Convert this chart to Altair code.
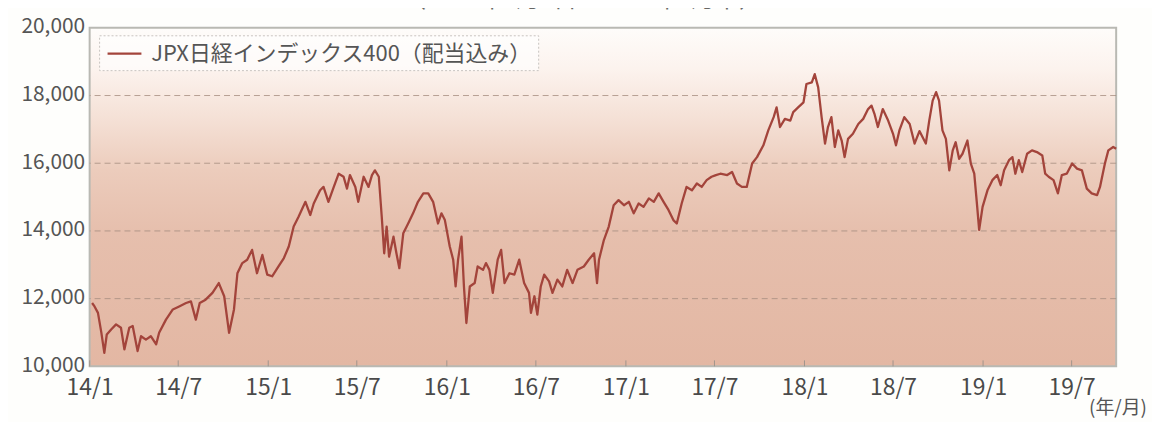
import altair as alt
import pandas as pd

# ---- data ----
series_name = "JPX日経インデックス400（配当込み）"
title_text = "（2014年1月6日～2019年9月末）"
unit_text = "(年/月)"
start_date = "2014-01-01"
day_offsets = [
    5, 10, 17, 24, 30, 35, 44, 54, 64, 71, 81, 88, 98, 105, 115, 125, 136, 142, 156, 170,
    183, 197, 207, 217, 225, 237, 251, 264, 275, 285, 295, 302, 312, 322, 332, 342, 353, 363, 373, 386,
    397, 407, 417, 427, 441, 451, 458, 471, 478, 488, 499, 509, 519, 526, 532, 543, 549, 560, 570, 577,
    583, 591, 597, 602, 607, 612, 621, 627, 633, 641, 651, 661, 671, 682, 692, 702, 712, 719, 726, 736,
    743, 748, 753, 760, 765, 770, 777, 787, 793, 804, 810, 817, 824, 834, 841, 848, 858, 868, 878, 888,
    898, 902, 909, 915, 922, 929, 939, 946, 956, 966, 976, 987, 997, 1010, 1020, 1031, 1037, 1041, 1051, 1061,
    1071, 1081, 1092, 1102, 1112, 1122, 1132, 1143, 1153, 1163, 1173, 1183, 1193, 1200, 1210, 1220, 1231, 1241, 1251, 1261,
    1271, 1280, 1289, 1303, 1313, 1323, 1333, 1343, 1354, 1364, 1377, 1387, 1398, 1404, 1411, 1421, 1432, 1438, 1448, 1459,
    1465, 1476, 1482, 1489, 1496, 1503, 1509, 1516, 1523, 1530, 1537, 1543, 1550, 1560, 1571, 1581, 1591, 1598, 1604, 1611,
    1621, 1632, 1642, 1648, 1655, 1665, 1676, 1686, 1696, 1709, 1716, 1723, 1730, 1736, 1743, 1750, 1757, 1764, 1770, 1777,
    1784, 1794, 1801, 1808, 1814, 1818, 1825, 1835, 1845, 1855, 1862, 1869, 1879, 1886, 1892, 1899, 1906, 1916, 1926, 1936,
    1947, 1953, 1960, 1970, 1979, 1987, 1997, 2008, 2018, 2028, 2038, 2048, 2059, 2065, 2075, 2082, 2092, 2098,
]
index_values = [
    11870, 11770, 11580, 10990, 10400, 10940, 11090, 11240, 11140, 10500, 11140, 11190, 10450, 10890, 10790, 10890, 10650, 10990, 11380, 11680,
    11770, 11870, 11920, 11380, 11870, 11970, 12170, 12460, 12070, 10990, 11680, 12750, 13050, 13150, 13440, 12750, 13290, 12710, 12660, 12950,
    13200, 13540, 14130, 14420, 14860, 14470, 14810, 15200, 15300, 14860, 15300, 15690, 15600, 15250, 15650, 15300, 14860, 15600, 15300, 15650,
    15790, 15600, 14420, 13340, 14130, 13240, 13830, 13340, 12900, 13930, 14220, 14520, 14860, 15110, 15110, 14860, 14220, 14520, 14320, 13540,
    13150, 12360, 13150, 13830, 12360, 11280, 12360, 12460, 12950, 12850, 13050, 12850, 12170, 13150, 13440, 12460, 12750, 12710, 13150, 12460,
    12170, 11580, 12070, 11530, 12360, 12710, 12510, 12170, 12560, 12360, 12850, 12460, 12850, 12950, 13150, 13340, 12460, 13150, 13730, 14130,
    14760, 14910, 14760, 14860, 14520, 14810, 14710, 14960, 14860, 15110, 14860, 14620, 14320, 14220, 14810, 15300, 15200, 15400, 15300, 15500,
    15600, 15650, 15690, 15650, 15740, 15400, 15300, 15300, 15990, 16180, 16530, 16970, 17360, 17650, 17070, 17310, 17260, 17510, 17650, 17800,
    18340, 18390, 18630, 18240, 17360, 16580, 17070, 17360, 16480, 16970, 16670, 16180, 16720, 16870, 17160, 17310, 17600, 17700, 17460, 17070,
    17600, 17260, 16870, 16530, 16970, 17360, 17160, 16580, 16950, 16580, 17260, 17850, 18100, 17850, 16970, 16720, 15790, 16380, 16620, 16130,
    16280, 16670, 15990, 15690, 14710, 14030, 14710, 15200, 15500, 15650, 15350, 15790, 16090, 16180, 15690, 16090, 15740, 16280, 16380, 16330,
    16230, 15690, 15600, 15500, 15110, 15650, 15690, 15990, 15840, 15790, 15250, 15110, 15060, 15300, 15990, 16380, 16480, 16430,
]
tick_dates = ["2014-01-01", "2014-07-01", "2015-01-01", "2015-07-01", "2016-01-01", "2016-07-01",
              "2017-01-01", "2017-07-01", "2018-01-01", "2018-07-01", "2019-01-01", "2019-07-01"]
y_ticks = [10000, 12000, 14000, 16000, 18000, 20000]
grid_values = [12000, 14000, 16000, 18000]
x_domain = ["2014-01-01", "2019-09-30"]

# ---- tables ----
dates = pd.Timestamp(start_date) + pd.to_timedelta(day_offsets, unit="D")
df = pd.DataFrame({"date": dates.strftime("%Y-%m-%dT00:00:00"), "value": index_values, "series": series_name})
tick_df = pd.DataFrame({"date": [d + "T00:00:00" for d in tick_dates]})
grid_df = pd.DataFrame({"value": grid_values})

W, H = 1031, 340
FONT = "Noto Sans CJK JP"
LINE_COLOR = "#a3443b"

def dt(s):
    y, m, d = (int(p) for p in s.split("-"))
    return alt.DateTime(year=y, month=m, date=d)

xscale = alt.Scale(domain=[dt(x_domain[0]), dt(x_domain[1])])
yscale = alt.Scale(domain=[10000, 20000], nice=False, zero=False)

x_axis = alt.Axis(
    values=[dt(t) for t in tick_dates], format="%y/%-m", title=None,
    labelFont=FONT, labelFontSize=23, labelColor="#4a4a4a", ticks=False, domain=False, grid=False,
    labelPadding=10, labelFlush=False, labelOverlap=False, labelBound=False)
y_axis = alt.Axis(
    values=y_ticks, format=",d", title=None,
    labelFont=FONT, labelFontSize=21, labelColor="#555", ticks=False, domain=False, grid=False,
    labelPadding=5, labelOffset=-1)

gradient = alt.Gradient(
    gradient="linear", x1=0, x2=0, y1=0, y2=1,
    stops=[
        alt.GradientStop(offset=0, color="#fefcfa"),
        alt.GradientStop(offset=0.12, color="#fcf3ee"),
        alt.GradientStop(offset=0.28, color="#f4dfd4"),
        alt.GradientStop(offset=0.42, color="#ecccbc"),
        alt.GradientStop(offset=0.6, color="#e6bfad"),
        alt.GradientStop(offset=1, color="#e3b7a3"),
    ],
)

one = alt.Data(values=[{}])

bg = alt.Chart(one).mark_rect(fill=gradient, stroke="#b9b9b3", strokeWidth=2).encode(
    x=alt.value(0), x2=alt.value(W), y=alt.value(0), y2=alt.value(H)
)

line = alt.Chart(df).mark_line(strokeWidth=2.3, strokeJoin="round").encode(
    x=alt.X("date:T", scale=xscale, axis=x_axis),
    y=alt.Y("value:Q", scale=yscale, axis=y_axis),
    color=alt.Color("series:N", scale=alt.Scale(range=[LINE_COLOR]), legend=None),
)

grid = alt.Chart(grid_df).mark_rule(color="#a58c80", strokeDash=[6, 4], strokeWidth=1, opacity=0.8).encode(
    y=alt.Y("value:Q", scale=yscale, axis=y_axis)
)

ticks = alt.Chart(tick_df).mark_rule(color="#a0948c", strokeWidth=1).encode(
    x=alt.X("date:T", scale=xscale, axis=x_axis),
    y=alt.value(H - 6), y2=alt.value(H),
)

# manual legend box
leg_box = alt.Chart(one).mark_rect(fill="#ffffff", fillOpacity=0.6, stroke="#c8c4c0", strokeDash=[2, 2], strokeWidth=1).encode(
    x=alt.value(10), x2=alt.value(451), y=alt.value(8), y2=alt.value(43)
)
leg_line = alt.Chart(one).mark_rule(color=LINE_COLOR, strokeWidth=2.2).encode(
    x=alt.value(18), x2=alt.value(52), y=alt.value(26)
)
leg_text = alt.Chart(one).mark_text(align="left", baseline="middle", font=FONT, fontSize=22, color="#555").encode(
    x=alt.value(62), y=alt.value(26), text=alt.value(series_name)
)

unit = alt.Chart(one).mark_text(align="right", baseline="middle", font=FONT, fontSize=19, color="#555").encode(
    x=alt.value(W + 31), y=alt.value(H + 42), text=alt.value(unit_text)
)
title = alt.Chart(one).mark_text(align="center", baseline="bottom", font=FONT, fontSize=24, color="#666").encode(
    x=alt.value(495), y=alt.value(-16), text=alt.value(title_text)
)

chart = alt.layer(bg, grid, ticks, line, leg_box, leg_line, leg_text, unit, title).properties(
    width=W, height=H,
    autosize=alt.AutoSizeParams(type="none"),
    padding={"left": 82, "top": 19, "right": 36, "bottom": 55},
    background="#fefefc",
).configure_view(strokeWidth=0)

chart.save("out.html", embed_options={"renderer": "svg", "actions": False})
